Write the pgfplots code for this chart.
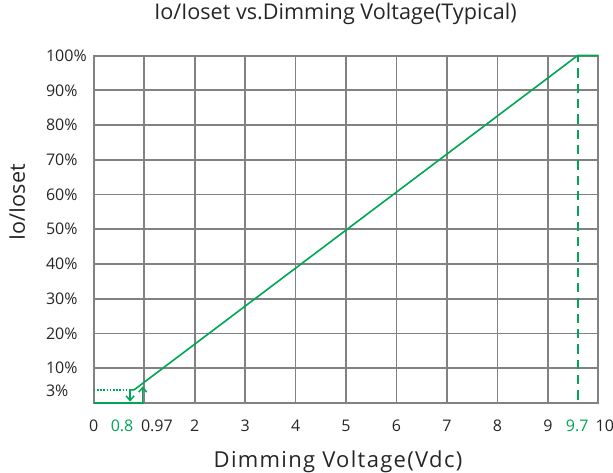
\documentclass[border=0pt]{standalone}
\usepackage{pgfplots}
\pgfplotsset{compat=1.18}
\usepackage{fontspec}
\setmainfont{Open Sans}
\newfontfamily\xlabfont[LetterSpace=6.0]{Open Sans}
\usetikzlibrary{arrows.meta}
\definecolor{lg}{RGB}{0,166,81}
\definecolor{gr}{RGB}{130,130,130}
\begin{document}
\begin{tikzpicture}
\useasboundingbox (-70.35pt,-51.75pt) rectangle (389.4pt,302.25pt);
\begin{axis}[
  at={(0,0)}, anchor=south west,
  scale only axis, width=378.4pt, height=260.6pt,
  xmin=0, xmax=10, ymin=0, ymax=100,
  clip=false,
  axis line style={gr, line width=1.5pt},
  major tick length=0pt,
  xtick={0,0.56,1.25,2,3,4,5,6,7,8,9,9.58,10},
  xticklabels={0,\textcolor{lg}{0.8},0.97,2,3,4,5,6,7,8,9,\textcolor{lg}{9.7},\hspace*{9.8pt}10},
  ytick={3.4,10,20,30,40,50,60,70,80,90,100},
  yticklabels={3\%,10\%,20\%,30\%,40\%,50\%,60\%,70\%,80\%,90\%,100\%},
  extra x ticks={1,2,3,4,5,6,7,8,9},
  extra x tick labels={},
  extra x tick style={grid=major},
  extra y ticks={10,20,30,40,50,60,70,80,90},
  extra y tick labels={},
  extra y tick style={grid=major},
  major grid style={gr, line width=1.3pt},
  xticklabel style={font=\fontsize{12}{14}\selectfont, text=black!85, anchor=base, yshift=-21.5pt},
  yticklabel style={font=\fontsize{12}{14}\selectfont, text=black!85, anchor=west, xshift=-36pt, inner xsep=0pt},
  title={Io/Ioset vs.Dimming Voltage(Typical)},
  title style={at={(0.479,1.081)}, anchor=base, yshift=0pt, font=\fontsize{16.2}{18}\selectfont, text=black!85},
  xlabel={\xlabfont Dimming Voltage(Vdc)},
  xlabel style={at={(0.484,-0.187)}, anchor=base, font=\fontsize{16.5}{18}\selectfont, text=black!85},
  ylabel={Io/Ioset},
  ylabel style={at={(-0.1364,0.578)}, anchor=base, rotate=0, font=\fontsize{16.2}{18}\selectfont, text=black!85},
]
\addplot[lg, line width=1.6pt] coordinates {(0,0) (1,0)};
\addplot[lg, line width=1.2pt, dash pattern=on 1.2pt off 1.2pt] coordinates {(0,3.8) (0.72,3.8)};
\addplot[lg, line width=1.2pt] coordinates {(0.72,3.8) (0.8,3.8) (9.59,100) (10,100)};
\addplot[lg, line width=1.1pt, -{Straight Barb[length=3.5pt,width=6pt]}] coordinates {(0.72,3.8) (0.72,0.4)};
\addplot[lg, line width=1.1pt, -{Straight Barb[length=3.5pt,width=6pt]}] coordinates {(0.97,0) (0.97,4.8)};
\addplot[lg, line width=1.3pt, dash pattern=on 7pt off 4.5pt] coordinates {(9.59,1) (9.59,100)};
\end{axis}
\end{tikzpicture}
\end{document}
